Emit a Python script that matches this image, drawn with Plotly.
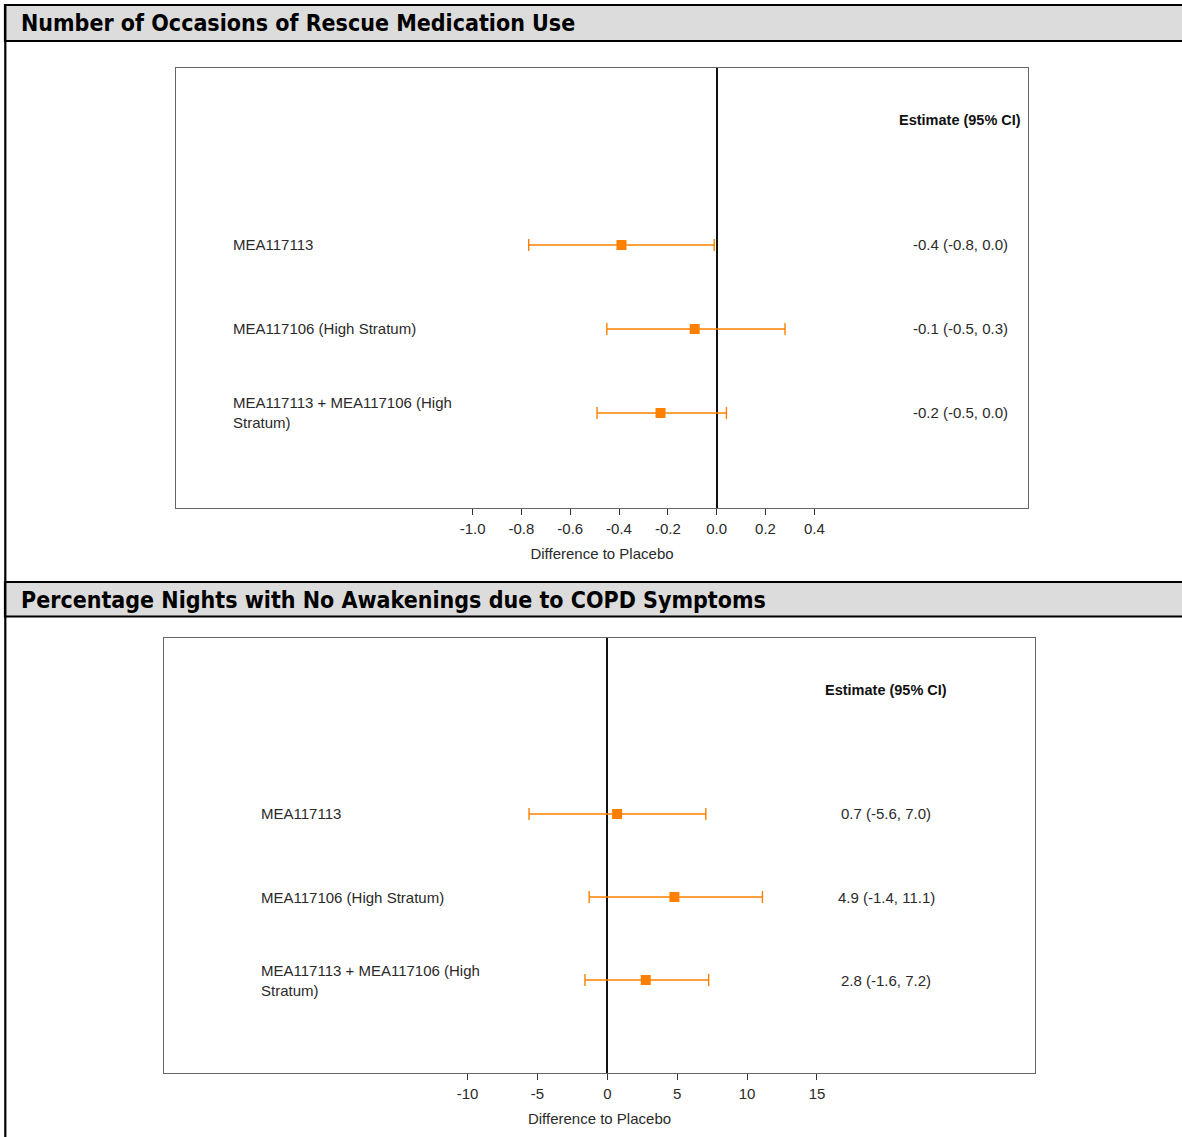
import plotly.graph_objects as go

W, H = 1182, 1137

# ---------------- data ----------------
studies = ["MEA117113", "MEA117106 (High Stratum)", "MEA117113 + MEA117106 (High<br>Stratum)"]

rescue_est = [-0.39, -0.09, -0.23]
rescue_low = [-0.77, -0.45, -0.49]
rescue_high = [-0.01, 0.28, 0.04]
rescue_text = ["-0.4 (-0.8, 0.0)", "-0.1 (-0.5, 0.3)", "-0.2 (-0.5, 0.0)"]
rescue_ticks = [-1.0, -0.8, -0.6, -0.4, -0.2, 0.0, 0.2, 0.4]
rescue_ticktext = ["-1.0", "-0.8", "-0.6", "-0.4", "-0.2", "0.0", "0.2", "0.4"]

nights_est = [0.7, 4.8, 2.75]
nights_low = [-5.6, -1.3, -1.6]
nights_high = [7.05, 11.1, 7.25]
nights_text = ["0.7 (-5.6, 7.0)", "4.9 (-1.4, 11.1)", "2.8 (-1.6, 7.2)"]
nights_ticks = [-10, -5, 0, 5, 10, 15]
nights_ticktext = ["-10", "-5", "0", "5", "10", "15"]

titles = ["Number of Occasions of Rescue Medication Use",
          "Percentage Nights with No Awakenings due to COPD Symptoms"]
est_header = "Estimate (95% CI)"
xlabel = "Difference to Placebo"

rows = list(range(len(studies)))

# ---------------- helpers ----------------
def px(x):
    return x / W

def py(y):
    return 1 - y / H

ORANGE = "#ff8000"
TXT = "#2a2a2a"
FONT = "Liberation Sans, Arial, sans-serif"
TFONT = "Liberation Sans Narrow, Arial Narrow, DejaVu Sans Condensed, Liberation Sans, sans-serif"

fig = go.Figure()

panels = [
    dict(est=rescue_est, low=rescue_low, high=rescue_high, txt=rescue_text,
         ticks=rescue_ticks, ticktext=rescue_ticktext,
         frame=(176, 1028, 68, 508), xrange=[-2.215, 1.2755], yrange=[3.131, -2.107],
         lab_x=233, est_x=960, head_y=120, xa="x", ya="y"),
    dict(est=nights_est, low=nights_low, high=nights_high, txt=nights_text,
         ticks=nights_ticks, ticktext=nights_ticktext,
         frame=(164, 1035, 638, 1073), xrange=[-31.72, 30.6], yrange=[3.12, -2.12],
         lab_x=261, est_x=886, head_y=690, xa="x2", ya="y2"),
]

annotations = []
for i, p in enumerate(panels):
    plus = [h - e for h, e in zip(p["high"], p["est"])]
    minus = [e - l for e, l in zip(p["est"], p["low"])]
    fig.add_trace(go.Scatter(
        x=p["est"], y=rows, xaxis=p["xa"], yaxis=p["ya"], mode="markers",
        marker=dict(symbol="square", size=10, color=ORANGE),
        error_x=dict(type="data", symmetric=False, array=plus, arrayminus=minus,
                     color=ORANGE, thickness=1.4, width=6),
        showlegend=False, hoverinfo="skip"))
    l, r, t, b = p["frame"]
    axx = dict(domain=[px(l), px(r)], range=p["xrange"], anchor=p["ya"],
               showgrid=False, zeroline=True, zerolinecolor="#111", zerolinewidth=1.5,
               showline=True, linecolor="#666", linewidth=1.3, mirror=True,
               ticks="outside", ticklen=6, tickwidth=1.2, tickcolor="#333",
               tickvals=p["ticks"], ticktext=p["ticktext"], ticklabelstandoff=1,
               tickfont=dict(family=FONT, size=15, color=TXT),
               title=dict(text=xlabel, font=dict(family=FONT, size=15, color=TXT), standoff=12),
               fixedrange=True)
    axy = dict(domain=[py(b), py(t)], range=p["yrange"], anchor=p["xa"],
               showgrid=False, zeroline=False, showticklabels=False, ticks="",
               showline=True, linecolor="#666", linewidth=1.3, mirror=True, fixedrange=True)
    suffix = "" if i == 0 else "2"
    fig.layout["xaxis" + suffix] = axx
    fig.layout["yaxis" + suffix] = axy
    for rr, name, et in zip(rows, studies, p["txt"]):
        annotations.append(dict(text=name, x=px(p["lab_x"] - 2), xref="paper", xanchor="left",
                                y=rr, yref=p["ya"], yanchor="middle", align="left", showarrow=False,
                                font=dict(family=FONT, size=15, color=TXT)))
        annotations.append(dict(text=et, x=px(p["est_x"]), xref="paper", xanchor="center",
                                y=rr, yref=p["ya"], yanchor="middle", showarrow=False,
                                font=dict(family=FONT, size=15, color=TXT)))
    annotations.append(dict(text="<b>" + est_header + "</b>", x=px(p["est_x"]), xref="paper",
                            xanchor="center", y=py(p["head_y"]), yref="paper", yanchor="middle",
                            showarrow=False, font=dict(family=FONT, size=14.5, color="#111")))

# header bars and page border
shapes = []
header_bands = [(5, 41, 23), (582, 616.5, 600)]
for (y0, y1, yc), title in zip(header_bands, titles):
    shapes.append(dict(type="rect", xref="paper", yref="paper", x0=px(5), x1=1.02,
                       y0=py(y1), y1=py(y0), fillcolor="#dcdcdc",
                       line=dict(color="#000", width=2.2), layer="below"))
    annotations.append(dict(text="<b>" + title + "</b>", x=px(19), xref="paper", xanchor="left",
                            y=py(yc), yref="paper", yanchor="middle", showarrow=False,
                            font=dict(family=TFONT, size=23, color="#000")))
shapes.append(dict(type="line", xref="paper", yref="paper", x0=px(5.3), x1=px(5.3),
                   y0=0, y1=py(5), line=dict(color="#000", width=2.2)))

fig.update_layout(width=W, height=H, margin=dict(l=0, r=0, t=0, b=0),
                  paper_bgcolor="white", plot_bgcolor="white",
                  shapes=shapes, annotations=annotations)

fig.write_html("out.html", config={"displayModeBar": False})
